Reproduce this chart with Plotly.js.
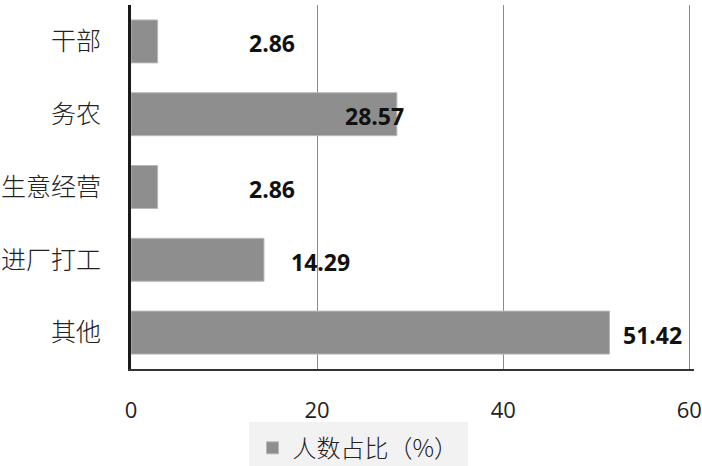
<!DOCTYPE html>
<html>
<head>
<meta charset="utf-8">
<script src="https://cdn.plot.ly/plotly-3.0.1.min.js"></script>
<style>
  html, body { margin: 0; padding: 0; background: #fff; }
  #chart { width: 702px; height: 466px; }
</style>
</head>
<body>
<div id="chart"></div>
<script>
// data
const categories = ["干部", "务农", "生意经营", "进厂打工", "其他"];
const shares = [2.86, 28.57, 2.86, 14.29, 51.42];
const seriesName = "人数占比（%）";
const xTicks = [0, 20, 40, 60];

// labels in the original were dragged by hand, so nudge them in pixels
const labelShift = [114, -22, 114, 57, 43];

const bars = {
  type: "bar",
  orientation: "h",
  x: shares,
  y: categories,
  name: seriesName,
  marker: { color: "#8e8e8e", line: { color: "#b8b8b8", width: 1 } },
  hoverinfo: "x+y",
};

const labels = categories.map(function (c, i) {
  return {
    x: shares[i],
    y: c,
    xref: "x",
    yref: "y",
    text: shares[i].toFixed(2),
    showarrow: false,
    xanchor: "center",
    xshift: labelShift[i],
    yshift: -2,
    font: { family: "Open Sans, Liberation Sans, sans-serif", size: 23, color: "#111", weight: 700 },
  };
});

const layout = {
  width: 702,
  height: 466,
  margin: { l: 131, r: 8, t: 5, b: 97 },
  paper_bgcolor: "#fff",
  plot_bgcolor: "#fff",
  bargap: 0.41,
  showlegend: true,
  font: { family: "Open Sans, Noto Sans CJK SC, sans-serif", color: "#222" },
  xaxis: {
    range: [0, 60.5],
    tickvals: xTicks,
    showgrid: true,
    gridcolor: "#8a8a8a",
    gridwidth: 1,
    zeroline: false,
    showline: true,
    linecolor: "#333",
    linewidth: 1.5,
    ticks: "",
    ticklabelstandoff: 21,
    tickfont: { family: "Open Sans, sans-serif", size: 22, color: "#222" },
    fixedrange: true,
  },
  yaxis: {
    autorange: "reversed",
    showgrid: false,
    zeroline: false,
    showline: true,
    linecolor: "#1a1a1a",
    linewidth: 3,
    ticks: "",
    ticklabelstandoff: 22,
    tickfont: { family: "Noto Sans CJK SC, sans-serif", size: 25, color: "#222", weight: 300 },
    fixedrange: true,
  },
  legend: {
    orientation: "h",
    xref: "container",
    yref: "container",
    x: 0.51,
    xanchor: "center",
    y: 0.095,
    yanchor: "top",
    bgcolor: "#f2f2f2",
    bordercolor: "#f2f2f2",
    borderwidth: 4,
    font: { family: "Noto Sans CJK SC, sans-serif", size: 24, color: "#222", weight: 300 },
  },
  annotations: labels,
};

Plotly.newPlot("chart", [bars], layout, { displayModeBar: false, staticPlot: true });
</script>
</body>
</html>
